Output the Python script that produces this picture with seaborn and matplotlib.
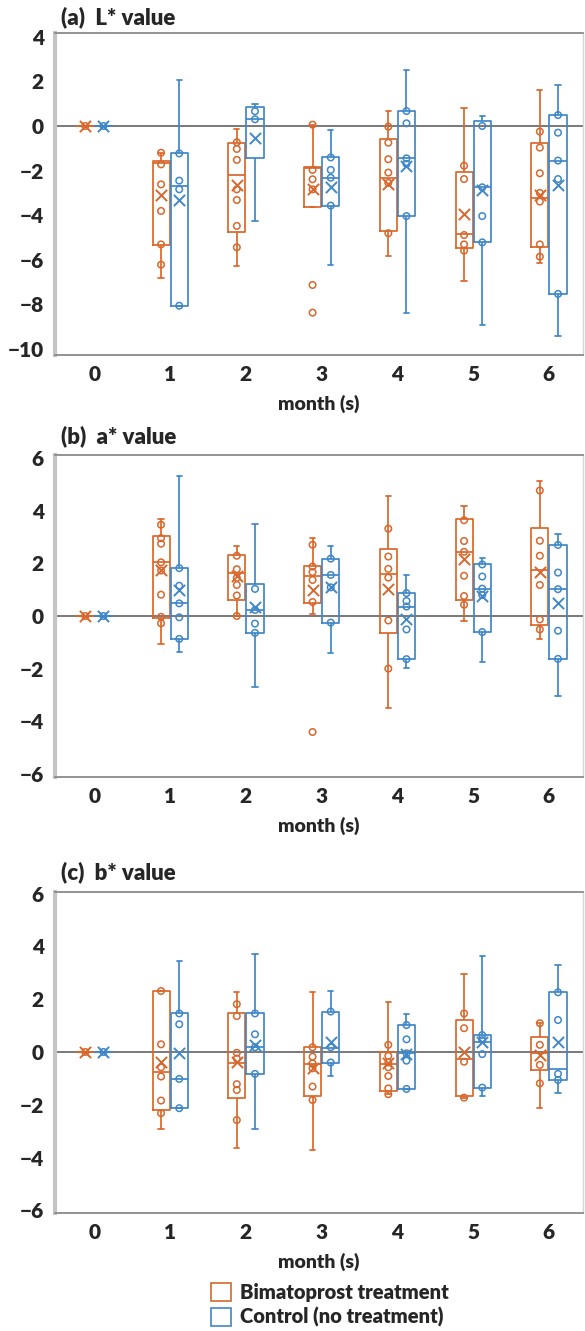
import numpy as np
import pandas as pd
import seaborn as sns
import matplotlib.pyplot as plt
import matplotlib.patches as mpatches

# months and the two groups
months = [0, 1, 2, 3, 4, 5, 6]
groups = ["Bimatoprost treatment", "Control (no treatment)"]
colors = ["#D9672C", "#3F87C8"]

# box = [whisker low, Q1, median, Q3, whisker high], one per month
# (a) L* value
L_bim_box = [[0, 0, 0, 0, 0], [-6.83, -5.34, -1.65, -1.57, -1.20], [-6.26, -4.74, -2.20, -0.78, -0.12],
             [-3.62, -3.62, -1.87, -1.82, 0.06], [-5.83, -4.69, -2.33, -0.58, 0.69],
             [-6.94, -5.49, -4.86, -2.08, 0.82], [-6.16, -5.44, -3.24, -0.78, 1.61]]
L_bim_mean = [0, -3.09, -2.65, -2.84, -2.60, -3.95, -3.09]
L_bim_pts = [[0], [-1.2, -1.72, -2.62, -3.81, -5.31, -6.22],
             [-0.73, -1.03, -1.52, -2.84, -3.32, -4.48, -5.44],
             [0.06, -1.97, -2.39, -2.84, -7.13, -8.37],
             [-0.03, -0.75, -1.49, -2.09, -2.55, -4.81],
             [-1.78, -2.38, -4.89, -5.31, -5.59],
             [-0.25, -0.97, -2.12, -3.0, -3.39, -5.31, -5.86]]
L_ctl_box = [[0, 0, 0, 0, 0], [-8.06, -8.06, -2.68, -1.23, 2.06], [-4.25, -1.45, 0.30, 0.84, 0.99],
             [-6.23, -3.57, -2.32, -1.41, -0.19], [-8.40, -4.04, -1.45, 0.67, 2.51],
             [-8.92, -5.22, -2.75, 0.24, 0.45], [-9.42, -7.53, -1.55, 0.49, 1.84]]
L_ctl_mean = [0, -3.32, -0.55, -2.75, -1.79, -2.87, -2.65]
L_ctl_pts = [[0], [-1.23, -2.45, -2.84, -8.06], [0.66, 0.30],
             [-1.41, -1.97, -2.32, -3.57], [0.67, 0.12, -1.45, -1.70, -4.04],
             [0.0, -2.75, -4.04, -5.22], [0.49, -0.30, -1.55, -2.38, -7.53]]

# (b) a* value
a_bim_box = [[0, 0, 0, 0, 0], [-1.07, -0.06, 2.04, 3.05, 3.69], [0.0, 0.59, 1.63, 2.32, 2.65],
             [0.06, 0.48, 1.53, 1.91, 2.96], [-3.50, -0.64, 1.60, 2.54, 4.55],
             [-0.19, 0.59, 2.44, 3.69, 4.17], [-0.88, -0.36, 1.76, 3.33, 5.13]]
a_bim_mean = [0, 1.73, 1.53, 0.99, 1.02, 2.16, 1.69]
a_bim_pts = [[0], [3.47, 2.96, 2.75, 2.04, 1.73, 0.81, -0.03, -0.28],
             [2.29, 1.78, 1.45, 1.18, 0.78, 0.0],
             [2.71, 1.88, 1.67, 1.37, 0.53, -4.41],
             [3.32, 2.26, 1.79, 1.46, -0.17, -2.0],
             [3.64, 2.85, 2.44, 1.53, 0.76, 0.43],
             [4.77, 2.86, 2.29, 1.18, -0.13, -0.51]]
a_ctl_box = [[0, 0, 0, 0, 0], [-1.36, -0.87, 0.48, 1.82, 5.34], [-2.70, -0.66, 0.23, 1.22, 3.51],
             [-1.40, -0.25, 1.56, 2.18, 2.65], [-1.97, -1.64, 0.33, 0.87, 1.55],
             [-1.74, -0.61, 1.04, 1.96, 2.20], [-3.05, -1.63, 1.02, 2.70, 3.12]]
a_ctl_mean = [0, 0.97, 0.33, 1.09, -0.11, 0.76, 0.48]
a_ctl_pts = [[0], [1.82, 1.15, 0.48, -0.05, -0.87], [1.03, 0.23, -0.29, -0.64],
             [2.18, 1.56, 1.09, -0.25], [0.87, 0.57, 0.36, -0.51, -1.64],
             [1.96, 1.50, 1.04, 0.80, -0.61], [2.70, 1.65, 1.02, -0.56, -1.63]]

# (c) b* value
b_bim_box = [[0, 0, 0, 0, 0], [-2.93, -2.20, -0.74, 2.31, 2.31], [-3.62, -1.76, -0.40, 1.46, 2.27],
             [-3.71, -1.65, -0.47, 0.18, 2.27], [-1.60, -1.46, -0.47, -0.01, 1.91],
             [-1.73, -1.67, -0.28, 1.21, 2.95], [-2.13, -0.68, -0.03, 0.58, 1.09]]
b_bim_mean = [0, -0.39, -0.37, -0.62, -0.43, 0.01, -0.11]
b_bim_pts = [[0], [2.31, 0.29, -0.58, -0.93, -1.84, -2.32],
             [1.81, 1.36, -0.03, -0.25, -1.22, -1.44, -2.58],
             [0.18, -0.18, -0.43, -0.62, -1.31, -1.82],
             [0.27, -0.15, -0.40, -0.58, -0.91, -1.38, -1.60],
             [1.46, 0.90, -0.37, -1.73],
             [1.09, 0.27, -0.49, -1.19]]
b_ctl_box = [[0, 0, 0, 0, 0], [-2.13, -2.13, -1.02, 1.46, 3.45], [-2.93, -0.83, 0.18, 1.46, 3.72],
             [-0.91, -0.43, 0.14, 1.53, 2.32], [-1.40, -1.40, -0.05, 1.02, 1.43],
             [-1.67, -1.35, 0.37, 0.64, 3.64], [-1.57, -1.06, -0.66, 2.26, 3.30]]
b_ctl_mean = [0, -0.05, 0.27, 0.37, -0.08, 0.37, 0.39]
b_ctl_pts = [[0], [1.46, 1.05, -1.02, -2.13], [1.46, 0.67, 0.18, -0.83],
             [1.53, 0.18, -0.40], [1.02, 0.48, -0.05, -0.33, -1.40],
             [0.64, 0.45, -0.08, -1.35], [2.26, 1.21, -0.83, -1.06]]

sns.set_style("white")
plt.rcParams["font.family"] = ["Lato", "DejaVu Sans"]
plt.rcParams["font.weight"] = "heavy"

W, H = 585, 1331
fig = plt.figure(figsize=(W / 100, H / 100), dpi=100)

offsets = [-0.12, 0.12]


def draw_panel(ax, boxes, means, points, ylim, yticks):
    rows = []
    for g, box_list in zip(groups, boxes):
        for m, five in zip(months, box_list):
            for v in five:
                rows.append({"month": m, "group": g, "value": v})
    df = pd.DataFrame(rows)

    ax.axhline(0, color="#6e6e6e", lw=1.3, zorder=0)
    sns.boxplot(data=df, x="month", y="value", hue="group", order=months, hue_order=groups,
                palette=colors, fill=False, whis=np.inf, width=0.48, gap=0.06,
                linewidth=1.25, capwidths=0.07, legend=False, ax=ax)

    for i, g in enumerate(groups):
        px, py = [], []
        for m, vals in zip(months, points[i]):
            px += [m + offsets[i]] * len(vals)
            py += vals
        sns.scatterplot(x=px, y=py, marker="o", s=22, color=colors[i], facecolors="none",
                        edgecolor=colors[i], linewidth=1.1, zorder=3, ax=ax)
        mx = [m + offsets[i] for m in months]
        sns.scatterplot(x=mx, y=means[i], marker="x", s=65, color=colors[i],
                        linewidth=1.4, zorder=4, ax=ax)

    ax.set_xlim(-0.52, 6.45)
    ax.set_ylim(*ylim)
    ax.set_yticks(yticks)
    ax.set_xticks(months)
    ax.set_xticklabels([str(m) for m in months])
    ax.set_ylabel("")
    ax.set_xlabel("month (s)", fontsize=14, fontweight="heavy", labelpad=8)
    ax.tick_params(axis="both", length=0, labelsize=15)
    ax.tick_params(axis="x", pad=7)
    ax.tick_params(axis="y", pad=8)
    for lab in ax.get_xticklabels() + ax.get_yticklabels():
        lab.set_fontweight("heavy")
    ax.spines["left"].set_color("#c4c4c4")
    ax.spines["left"].set_linewidth(3)
    for s in ["top", "bottom"]:
        ax.spines[s].set_color("#8a8a8a")
        ax.spines[s].set_linewidth(1.3)
    ax.spines["right"].set_color("#d6d6d6")
    ax.spines["right"].set_linewidth(1)


left = 55 / W
width = 528 / W
ax_a = fig.add_axes([left, 1 - 355 / H, width, 322 / H])
ax_b = fig.add_axes([left, 1 - 777 / H, width, 322 / H])
ax_c = fig.add_axes([left, 1 - 1213 / H, width, 321 / H])

draw_panel(ax_a, [L_bim_box, L_ctl_box], [L_bim_mean, L_ctl_mean], [L_bim_pts, L_ctl_pts],
           (-10.27, 4.17), range(-10, 5, 2))
draw_panel(ax_b, [a_bim_box, a_ctl_box], [a_bim_mean, a_ctl_mean], [a_bim_pts, a_ctl_pts],
           (-6.12, 6.12), range(-6, 7, 2))
draw_panel(ax_c, [b_bim_box, b_ctl_box], [b_bim_mean, b_ctl_mean], [b_bim_pts, b_ctl_pts],
           (-6.1, 6.06), range(-6, 7, 2))

fig.text(61 / W, 1 - 17 / H, "(a)  L* value", fontsize=16, fontweight="heavy", va="center")
fig.text(61 / W, 1 - 436 / H, "(b)  a* value", fontsize=16, fontweight="heavy", va="center")
fig.text(61 / W, 1 - 872 / H, "(c)  b* value", fontsize=16, fontweight="heavy", va="center")

handles = [mpatches.Patch(facecolor="none", edgecolor=c, lw=1.2) for c in colors]
fig.legend(handles, groups, loc="upper left", bbox_to_anchor=(211 / W, 1 - 1283 / H),
           frameon=False, handlelength=1.0, handleheight=1.0, handletextpad=0.45,
           labelspacing=0.25, borderpad=0, borderaxespad=0,
           prop={"weight": "heavy", "size": 14.5})

fig.savefig("out.png", dpi=100)
